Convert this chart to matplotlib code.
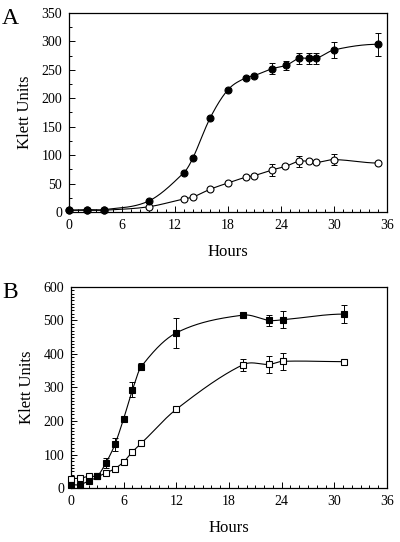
import numpy as np
import matplotlib
matplotlib.use("Agg")
import matplotlib.pyplot as plt
from matplotlib.ticker import MultipleLocator

plt.rcParams['font.family'] = ['Liberation Serif', 'DejaVu Serif']

# Panel A data
a_hours = [0, 2, 4, 9, 13, 14, 16, 18, 20, 21, 23, 24.6, 26, 27.2, 28, 30, 35]
a_filled = [3, 4, 4, 19, 69, 94, 166, 215, 236, 240, 252, 258, 270, 270, 270, 285, 295]
a_filled_err = [0, 0, 0, 0, 0, 0, 0, 0, 0, 0, 10, 8, 10, 10, 10, 14, 20]
a_open_hours = [0, 2, 4, 9, 13, 14, 16, 18, 20, 21, 23, 24.5, 26, 27.2, 28, 30, 35]
a_open = [3, 3, 3, 9, 23, 26, 40, 51, 61, 64, 74, 80, 89, 89, 87, 92, 86]
a_open_err = [0, 0, 0, 0, 0, 0, 0, 0, 0, 0, 10, 0, 10, 0, 0, 10, 0]

# Panel B data
b_hours = [0, 1, 2, 3, 4, 5, 6, 7, 8, 12, 19.6, 22.6, 24.1, 31.1]
b_filled = [10, 10, 21, 35, 76, 130, 207, 293, 362, 463, 516, 500, 502, 519]
b_filled_err = [0, 0, 0, 0, 15, 20, 0, 22, 10, 44, 5, 17, 25, 27]
b_open = [28, 29, 35, 35, 45, 58, 78, 108, 133, 235, 368, 369, 378, 377]
b_open_err = [0, 0, 0, 0, 5, 0, 0, 0, 0, 0, 18, 25, 25, 0]


def smooth_curve(x, y, n=400):
    """Cubic Hermite curve through the points, three-point tangents,
    flat at the last point."""
    x = np.asarray(x, float)
    y = np.asarray(y, float)
    k = len(x)
    d = np.zeros(k)
    d[0] = (y[1] - y[0]) / (x[1] - x[0])
    for i in range(1, k - 1):
        d[i] = (y[i + 1] - y[i - 1]) / (x[i + 1] - x[i - 1])
    xs = np.linspace(x[0], x[-1], n)
    idx = np.clip(np.searchsorted(x, xs) - 1, 0, k - 2)
    h = x[idx + 1] - x[idx]
    t = (xs - x[idx]) / h
    h00 = 2 * t ** 3 - 3 * t ** 2 + 1
    h10 = t ** 3 - 2 * t ** 2 + t
    h01 = -2 * t ** 3 + 3 * t ** 2
    h11 = t ** 3 - t ** 2
    ys = h00 * y[idx] + h10 * h * d[idx] + h01 * y[idx + 1] + h11 * h * d[idx + 1]
    return xs, ys


def style_axes(ax, ymax, ymajor, yminor):
    ax.set_xlim(0, 36)
    ax.set_ylim(0, ymax)
    ax.xaxis.set_major_locator(MultipleLocator(6))
    ax.xaxis.set_minor_locator(MultipleLocator(1))
    ax.yaxis.set_major_locator(MultipleLocator(ymajor))
    ax.yaxis.set_minor_locator(MultipleLocator(yminor))
    ax.tick_params(which='both', direction='in', top=False, right=False,
                   labelsize=10, width=0.7)
    ax.tick_params(which='major', length=4, pad=5)
    ax.tick_params(which='minor', length=2)
    for s in ax.spines.values():
        s.set_linewidth(0.9)
    ax.set_xlabel('Hours', fontsize=12, labelpad=9)
    ax.set_ylabel('Klett Units', fontsize=12, labelpad=6)


def draw(ax, x, y, err, marker, fill):
    xs, ys = smooth_curve(x, y)
    ax.plot(xs, ys, color='black', lw=0.8, zorder=2)
    e = np.asarray(err, float)
    m = e > 0
    ax.errorbar(np.asarray(x)[m], np.asarray(y)[m], yerr=e[m], fmt='none',
                ecolor='black', elinewidth=0.7, capsize=2.5, capthick=0.7, zorder=3)
    ax.plot(x, y, linestyle='none', marker=marker, ms=5,
            mfc='black' if fill else 'white', mec='black', mew=0.8,
            zorder=4, clip_on=False)


fig = plt.figure(figsize=(4.0, 5.42), dpi=100)

axA = fig.add_axes([0.1725, 0.609, 0.795, 0.367])
draw(axA, a_open_hours, a_open, a_open_err, 'o', False)
draw(axA, a_hours, a_filled, a_filled_err, 'o', True)
style_axes(axA, 350, 50, 25)

axB = fig.add_axes([0.1775, 0.0996, 0.79, 0.371])
draw(axB, b_hours, b_open, b_open_err, 's', False)
draw(axB, b_hours, b_filled, b_filled_err, 's', True)
style_axes(axB, 600, 100, 10)

fig.text(0.005, 0.955, 'A', fontsize=17)
fig.text(0.005, 0.45, 'B', fontsize=17)

fig.savefig('out.png', dpi=100)
